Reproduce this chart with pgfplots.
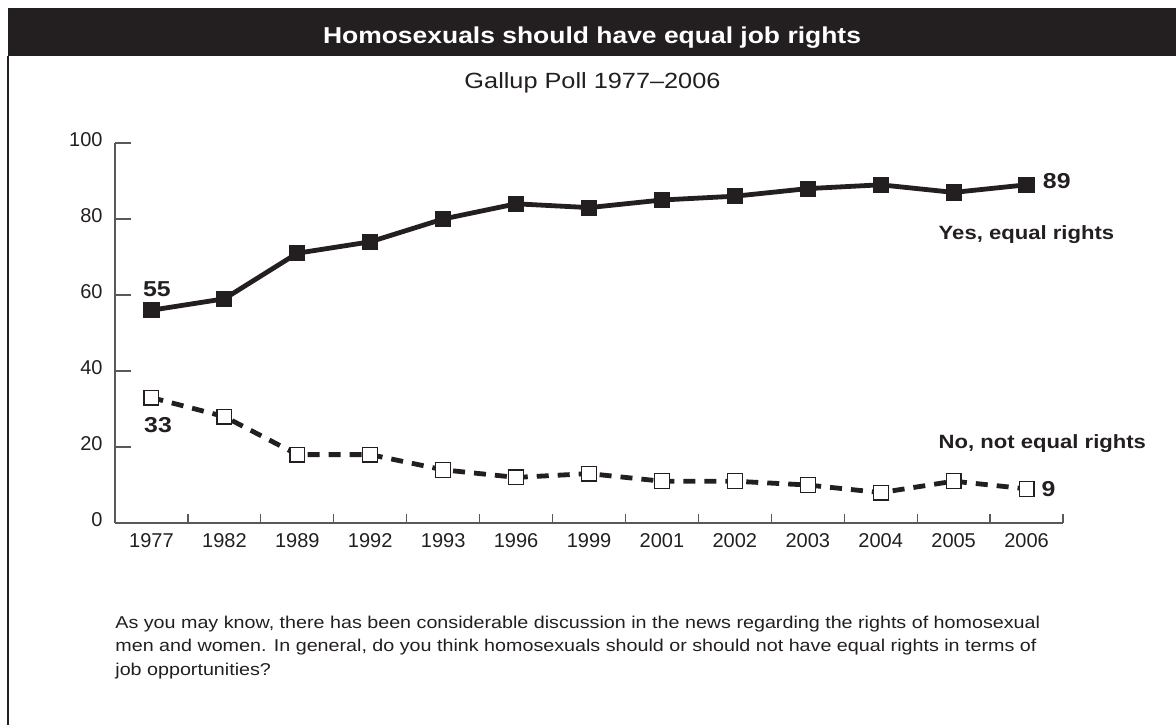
\documentclass[border=0pt]{standalone}
\usepackage{pgfplots}
\pgfplotsset{compat=1.18}
\usepackage{fontspec}
\setmainfont{Liberation Sans}[FakeStretch=1.15]
\newfontfamily\tickfont{Liberation Sans}
\definecolor{ink}{HTML}{231F20}
\definecolor{axisgray}{HTML}{58595B}

\begin{document}
\begin{tikzpicture}
% header band and frame
\fill[ink] (-53.5pt,233.5pt) rectangle (530.5pt,257.5pt);
\node[white, font=\bfseries\fontsize{11.5}{13}\selectfont, anchor=base, inner sep=0]
  at (238.5pt,239.85pt) {Homosexuals should have equal job rights};
\draw[ink, line width=0.75pt] (-53.5pt,233.5pt) -- (-53.5pt,-101pt);
\node[text=ink, font=\fontsize{11}{12}\selectfont, anchor=base, inner sep=0]
  at (238.75pt,217.5pt) {Gallup Poll 1977--2006};

\begin{axis}[
    at={(0pt,0pt)}, anchor=south west,
    scale only axis, width=474pt, height=190pt,
    xmin=-0.5, xmax=12.5, ymin=0, ymax=100,
    clip=false,
    axis x line*=bottom, axis y line*=left,
    axis line style={axisgray, line width=0.6pt},
    tick align=inside, xtick pos=bottom, ytick pos=left,
    ytick={0,20,40,60,80,100},
    xtick={0,...,12},
    xticklabels={1977,1982,1989,1992,1993,1996,1999,2001,2002,2003,2004,2005,2006},
    minor xtick={-0.5,0.5,...,12.5},
    major tick length=8pt, minor tick length=4.7pt,
    tick style={axisgray, line width=0.6pt},
    major x tick style={draw=none},
    /pgf/number format/assume math mode=true,
    ticklabel style={font=\tickfont\fontsize{10}{11}\selectfont, text=ink, inner sep=0pt},
    xticklabel style={anchor=north, yshift=-5.3pt},
    yticklabel style={anchor=east, xshift=-6pt, yshift=1.7pt},
  ]

% Yes, equal rights
\addplot[ink, line width=2.4pt, mark=square*, mark size=3.8pt,
         mark options={solid, line width=0.5pt, fill=ink}] coordinates {
  (0,56) (1,59) (2,71) (3,74) (4,80) (5,84) (6,83)
  (7,85) (8,86) (9,88) (10,89) (11,87) (12,89)};

% No, not equal rights
\addplot[ink, line width=2.4pt, dash pattern=on 6pt off 4.5pt,
         mark=square*, mark size=3.7pt,
         mark options={solid, line width=0.6pt, fill=white, draw=ink}] coordinates {
  (0,33) (1,28) (2,18) (3,18) (4,14) (5,12) (6,13)
  (7,11) (8,11) (9,10) (10,8) (11,11) (12,9)};

\node[anchor=base, inner sep=0, text=ink, font=\bfseries\fontsize{10.8}{12}\selectfont]
  at (axis cs:0.075,59.7) {55};
\node[anchor=base, inner sep=0, text=ink, font=\bfseries\fontsize{10.8}{12}\selectfont]
  at (axis cs:0.09,23.9) {33};
\node[anchor=base west, inner sep=0, text=ink, font=\bfseries\fontsize{10.8}{12}\selectfont]
  at (axis cs:12.22,88.1) {89};
\node[anchor=base west, inner sep=0, text=ink, font=\bfseries\fontsize{10.8}{12}\selectfont]
  at (axis cs:12.2,7.1) {9};
\node[anchor=base west, inner sep=0, text=ink, font=\bfseries\fontsize{9.6}{11}\selectfont]
  at (axis cs:10.79,74.5) {Yes, equal rights};
\node[anchor=base west, inner sep=0, text=ink, font=\bfseries\fontsize{9.6}{11}\selectfont]
  at (axis cs:10.79,19.65) {No, not equal rights};
\end{axis}

% question wording
\node[anchor=base west, inner sep=0, text=ink, font=\fontsize{8.57}{10}\selectfont] at (0pt,-52.65pt)
  {As you may know, there has been considerable discussion in the news regarding the rights of homosexual};
\node[anchor=base west, inner sep=0, text=ink, font=\fontsize{8.57}{10}\selectfont] at (0pt,-64.35pt)
  {men and women. In general, do you think homosexuals should or should not have equal rights in terms of};
\node[anchor=base west, inner sep=0, text=ink, font=\fontsize{8.57}{10}\selectfont] at (0pt,-76pt)
  {job opportunities?};

\pgfresetboundingbox
\path[use as bounding box] (-57.5pt,-101pt) rectangle (530.5pt,261.5pt);
\end{tikzpicture}
\end{document}
